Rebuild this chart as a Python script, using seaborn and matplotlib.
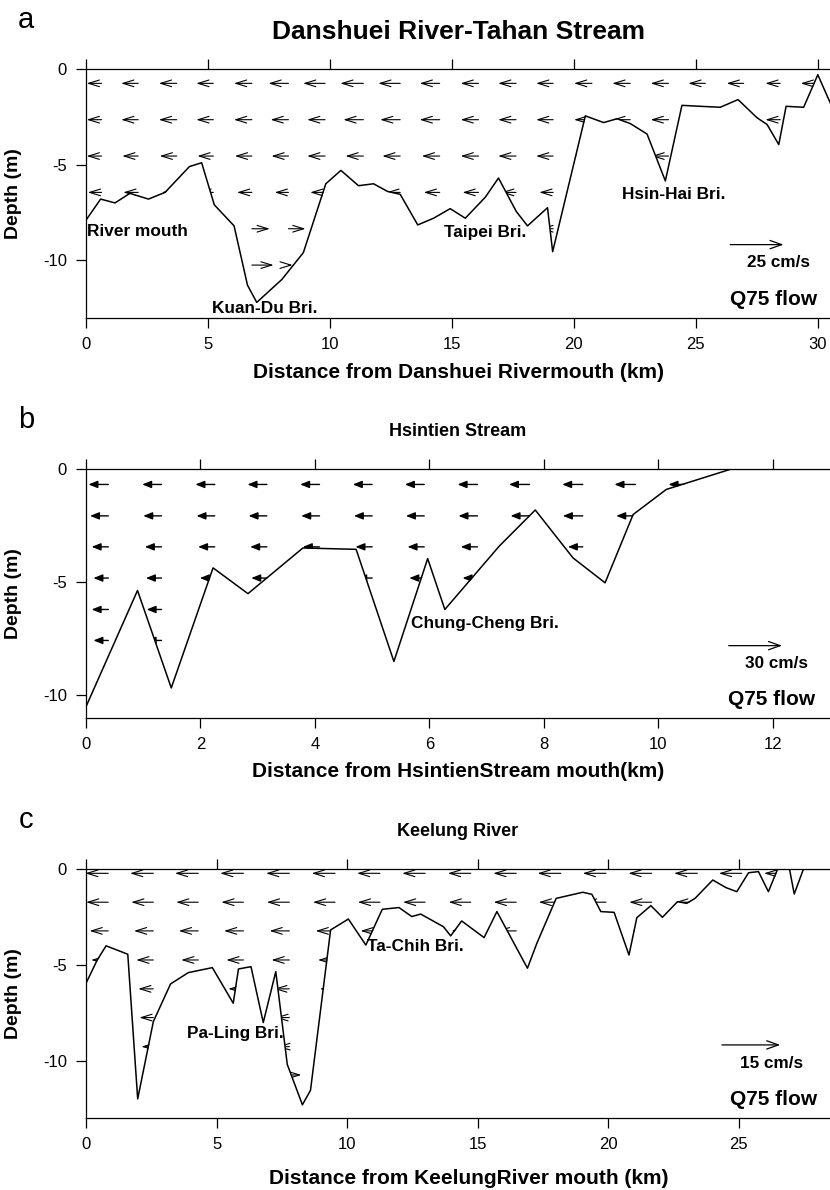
import numpy as np
import matplotlib
matplotlib.use("Agg")
import matplotlib.pyplot as plt
import seaborn as sns

nan = np.nan

# ======================= DATA =======================
# ---- Panel a : Danshuei River-Tahan Stream ----
title_a = "Danshuei River-Tahan Stream"
xlabel_a = "Distance from Danshuei Rivermouth (km)"
bed_a_km = [0.0, 0.6, 1.19, 1.8, 2.56, 3.24, 4.24, 4.74, 5.26, 6.07, 6.62, 7.0,
            8.03, 8.91, 9.83, 10.45, 11.17, 11.79, 12.36, 12.88, 13.6, 14.25,
            14.93, 15.55, 16.37, 16.91, 17.64, 18.1, 18.92, 19.13, 20.47, 21.22,
            21.77, 22.31, 23.0, 23.75, 24.43, 25.18, 26.0, 26.73, 27.51, 27.92,
            28.4, 28.7, 29.42, 30.0, 30.52]
bed_a_depth = [-7.9, -6.8, -7.0, -6.5, -6.8, -6.45, -5.1, -4.9, -7.1, -8.2, -11.3, -12.2,
               -11.0, -9.6, -6.0, -5.3, -6.1, -6.0, -6.4, -6.55, -8.15, -7.8,
               -7.3, -7.8, -6.7, -5.7, -7.45, -8.2, -7.25, -9.55, -2.45, -2.8,
               -2.6, -2.85, -3.4, -5.85, -1.9, -1.95, -2.0, -1.6, -2.55, -2.9,
               -3.95, -1.95, -2.0, -0.3, -1.8]
arrow_a_km = [0.64, 2.14, 3.72, 5.22, 6.8, 8.3, 9.8, 11.37, 12.88, 14.5,
              16.09, 17.63, 19.15, 20.74, 22.31, 23.88, 25.39, 26.96, 28.46, 29.83]
arrow_a_depth = [-0.75, -2.65, -4.55, -6.45, -8.35, -10.25]
u_a = [
    [-7.0, -8.0, -8.4, -8.0, -8.4, -9.4, -10.3, -10.8, -10.3, -9.4,
     -8.4, -8.4, -8.0, -8.4, -8.4, -8.4, -8.0, -8.0, -7.0, -6.1],
    [-7.0, -8.0, -8.4, -8.0, -8.4, -8.4, -8.4, -9.4, -9.4, -9.4,
     -8.4, -8.4, -8.0, -8.4, -8.4, -8.4, -8.0, -8.0, -7.0, -6.1],
    [-7.0, -7.5, -8.0, -7.5, -8.0, -8.0, -8.4, -8.4, -8.4, -8.4,
     -8.4, -8.4, -8.0, -8.0, -8.0, -8.0, -8.0, -7.5, -7.0, -6.1],
    [-6.5, -7.0, -7.0, -7.0, -7.0, -6.5, -7.0, -7.0, -6.5, -7.5,
     -7.5, -7.0, -6.5, -7.0, -7.0, -7.0, -7.0, -7.0, -6.5, -6.0],
    [nan, nan, nan, nan, 8.4, 8.0, -6.0, -6.0, nan, nan,
     nan, nan, -6.0, nan, nan, nan, nan, nan, nan, nan],
    [nan, nan, nan, nan, 10.2, 2.0, nan, nan, nan, nan,
     nan, nan, nan, nan, nan, nan, nan, nan, nan, nan],
]
key_a = 25
bridges_a = ["River mouth", "Kuan-Du Bri.", "Taipei Bri.", "Hsin-Hai Bri."]

# ---- Panel b : Hsintien Stream ----
title_b = "Hsintien Stream"
xlabel_b = "Distance from HsintienStream mouth(km)"
bed_b_km = [0.0, 0.9, 1.49, 2.22, 2.83, 3.79, 4.72, 5.38, 5.97, 6.27, 7.22, 7.85,
            8.51, 9.07, 9.56, 10.14, 11.26, 13.0]
bed_b_depth = [-10.5, -5.36, -9.67, -4.36, -5.5, -3.48, -3.54, -8.5, -3.95, -6.2, -3.4, -1.8,
               -3.92, -5.02, -2.0, -0.89, 0.0, 0.0]
arrow_b_km = [0.39, 1.32, 2.25, 3.16, 4.08, 5.0, 5.91, 6.84, 7.75, 8.68, 9.6, 10.52]
arrow_b_depth = [-0.67, -2.06, -3.43, -4.81, -6.2, -7.57]
u_b = [
    [-11.2, -10.9, -10.9, -10.9, -10.9, -10.9, -10.9, -11.2, -11.6, -11.6, -11.8, -11.0],
    [-10.3, -10.3, -10.3, -10.3, -10.3, -10.3, -10.3, -10.7, -10.7, -11.2, -10.8, nan],
    [-9.4, -9.4, -9.4, -9.4, -9.4, -9.4, -9.4, -9.4, nan, -8.4, -8.0, nan],
    [-8.4, -8.8, -8.4, -8.8, nan, -8.4, -8.4, -8.4, nan, nan, nan, nan],
    [-9.4, -8.4, nan, nan, nan, nan, nan, nan, nan, nan, nan, nan],
    [-8.4, -8.4, nan, nan, nan, nan, nan, nan, nan, nan, nan, nan],
]
key_b = 30
bridges_b = ["Chung-Cheng Bri."]

# ---- Panel c : Keelung River ----
title_c = "Keelung River"
xlabel_c = "Distance from KeelungRiver mouth (km)"
bed_c_km = [0.0, 0.43, 0.77, 1.6, 1.98, 2.58, 3.24, 3.92, 4.84, 5.64, 5.84, 6.32,
            6.79, 7.27, 7.71, 8.29, 8.6, 9.37, 10.05, 10.72, 11.35, 11.99, 12.48,
            12.82, 13.69, 13.97, 14.39, 15.25, 15.74, 16.91, 17.27, 18.01, 19.03,
            19.38, 19.72, 20.23, 20.8, 21.1, 21.64, 22.08, 22.66, 23.01, 23.33,
            24.01, 24.52, 24.93, 25.38, 25.76, 26.14, 26.49, 26.95, 27.13, 27.48, 28.5]
bed_c_depth = [-5.96, -4.74, -4.0, -4.44, -12.0, -7.96, -5.99, -5.4, -5.14, -7.0, -5.21, -5.09,
               -8.01, -5.35, -10.2, -12.31, -11.55, -3.17, -2.6, -3.96, -2.09, -2.0, -2.47,
               -2.34, -3.0, -3.48, -2.7, -3.57, -2.21, -5.17, -3.87, -1.52, -1.2,
               -1.31, -2.21, -2.25, -4.48, -2.53, -1.9, -2.51, -1.69, -1.78, -1.52,
               -0.56, -0.96, -1.17, -0.18, -0.12, -1.17, 0.0, 0.0, -1.29, 0.0, 0.0]
arrow_c_km = [0.85, 2.58, 4.3, 6.03, 7.79, 9.54, 11.26, 12.99, 14.74, 16.48,
              18.19, 19.92, 21.67, 23.42, 25.12, 26.85]
arrow_c_depth = [-0.21, -1.72, -3.22, -4.74, -6.25, -7.75, -9.27, -10.75]
u_c = [
    [-5.9, -6.0, -6.0, -6.0, -6.0, -6.0, -5.9, -5.9, -5.9, -5.9, -6.0, -6.0, -6.0, -6.0, -5.9, -5.9],
    [-5.7, -5.7, -5.7, -5.7, -5.8, -5.7, -5.7, -5.7, -5.7, -5.8, -5.7, -5.7, -5.8, -5.7, -5.7, -5.7],
    [-4.8, -5.0, -5.0, -5.0, -5.1, -5.0, -5.0, -5.0, -5.0, -5.0, -5.0, -5.0, -5.0, -5.0, -5.0, -5.0],
    [-4.4, -4.4, -4.4, -4.4, -4.6, -4.4, -4.4, -4.4, -4.4, -4.4, -4.4, -4.4, -4.4, -4.4, -4.4, -4.4],
    [nan, -3.9, nan, -3.9, -3.9, -3.9, nan, nan, nan, nan, nan, nan, nan, nan, nan, nan],
    [nan, -3.6, nan, nan, -3.6, -3.6, nan, nan, nan, nan, nan, nan, nan, nan, nan, nan],
    [nan, -3.1, nan, nan, -3.1, nan, nan, nan, nan, nan, nan, nan, nan, nan, nan, nan],
    [nan, nan, nan, nan, 3.1, nan, nan, nan, nan, nan, nan, nan, nan, nan, nan, nan],
]
key_c = 15
bridges_c = ["Ta-Chih Bri.", "Pa-Ling Bri."]

flow_label = "Q75 flow"
ylabel = "Depth (m)"
panel_letters = ["a", "b", "c"]

# ======================= STYLE / LAYOUT =======================
sns.set_theme(style="ticks")
plt.rcParams["font.family"] = ["Liberation Sans", "DejaVu Sans"]
plt.rcParams["axes.unicode_minus"] = False
plt.rcParams["axes.linewidth"] = 0.9
for k in ["text.color", "axes.labelcolor", "xtick.color", "ytick.color", "axes.edgecolor"]:
    plt.rcParams[k] = "black"

W, H = 830, 1190
fig = plt.figure(figsize=(W / 100, H / 100), dpi=100)


def fxy(x, y):
    return x / W, 1 - y / H


def make_axes(top_px):
    left, width, height = 86, 744, 248.7
    return fig.add_axes([left / W, 1 - (top_px + height) / H, width / W, height / H])


def draw_panel(ax, bed_km, bed_depth, arrow_km, arrow_depth, u, px_per_cms,
               style, lw, xlim, ylim, xticks, yticks):
    for d, row in zip(arrow_depth, u):
        for x, val in zip(arrow_km, row):
            if np.isnan(val):
                continue
            ax.annotate("", xy=(x, d), xycoords="data",
                        xytext=(val * px_per_cms * 0.72, 0), textcoords="offset points",
                        arrowprops=dict(arrowstyle=style, color="black", lw=lw,
                                        shrinkA=0, shrinkB=0),
                        zorder=1.5)
    ax.fill_between(bed_km, bed_depth, ylim[0], color="white", lw=0, zorder=2)
    sns.lineplot(x=bed_km, y=bed_depth, ax=ax, color="black", lw=1.1,
                 sort=False, estimator=None, zorder=3)
    ax.set_xlim(*xlim)
    ax.set_ylim(*ylim)
    ax.set_xticks(xticks)
    ax.set_yticks(yticks)
    ax.set_xlabel("")
    ax.set_ylabel("")
    ax.spines["right"].set_visible(False)
    ax.tick_params(axis="x", top=True, bottom=True, direction="out", length=7.2,
                   width=0.9, labelsize=12, pad=6.5, colors="black")
    ax.tick_params(axis="y", left=True, right=False, direction="out", length=7.2,
                   width=0.9, labelsize=12, pad=6.5, colors="black")
    for s in ax.spines.values():
        s.set_color("black")
        s.set_zorder(2.5)


def add_key(ax, x, y, speed, px_per_cms, label_x, label_y):
    ax.annotate("", xy=(x, y), xycoords="data",
                xytext=(speed * px_per_cms * 0.72, 0), textcoords="offset points",
                arrowprops=dict(arrowstyle="<-,head_length=0.7,head_width=0.25",
                                color="black", lw=0.9, shrinkA=0, shrinkB=0),
                zorder=4)
    ax.text(label_x, label_y, f"{speed} cm/s", ha="center", va="center",
            fontsize=12.3, fontweight="bold", zorder=4)


open_style = "<-,head_length=0.65,head_width=0.2"
fill_style = "<|-,head_length=0.45,head_width=0.18"
txt = dict(fontsize=12.4, fontweight="bold", zorder=4, va="center", ha="left")
flow_kw = dict(ha="right", va="center", fontsize=15, fontweight="bold", zorder=4)

# ---- Panel a ----
ax_a = make_axes(69)
pa = 53.3 / key_a
draw_panel(ax_a, bed_a_km, bed_a_depth, arrow_a_km, arrow_a_depth, u_a, pa,
           open_style, 0.8, (0, 30.5), (-13, 0), [0, 5, 10, 15, 20, 25, 30], [0, -5, -10])
ax_a.text(0.04, -8.5, bridges_a[0], **txt)
ax_a.text(5.17, -12.53, bridges_a[1], **txt)
ax_a.text(14.66, -8.57, bridges_a[2], **txt)
ax_a.text(21.97, -6.57, bridges_a[3], **txt)
add_key(ax_a, 26.41, -9.18, key_a, pa, 28.38, -10.14)
ax_a.text(29.97, -12.05, flow_label, **flow_kw)

# ---- Panel b ----
ax_b = make_axes(469.3)
pb = 53.3 / key_b
draw_panel(ax_b, bed_b_km, bed_b_depth, arrow_b_km, arrow_b_depth, u_b, pb,
           fill_style, 1.0, (0, 13), (-11, 0), [0, 2, 4, 6, 8, 10, 12], [0, -5, -10])
ax_b.text(5.68, -6.83, bridges_b[0], **txt)
add_key(ax_b, 11.23, -7.8, key_b, pb, 12.07, -8.61)
ax_b.text(12.74, -10.16, flow_label, **flow_kw)

# ---- Panel c ----
ax_c = make_axes(869.3)
pc = 58.3 / key_c
draw_panel(ax_c, bed_c_km, bed_c_depth, arrow_c_km, arrow_c_depth, u_c, pc,
           open_style, 0.8, (0, 28.5), (-13, 0), [0, 5, 10, 15, 20, 25], [0, -5, -10])
ax_c.text(10.78, -4.01, bridges_c[0], **txt)
ax_c.text(3.88, -8.57, bridges_c[1], **txt)
add_key(ax_c, 24.36, -9.18, key_c, pc, 26.28, -10.17)
ax_c.text(28.0, -12.02, flow_label, **flow_kw)

# ---- titles, letters, axis labels ----
fig.text(*fxy(458, 32), title_a, ha="center", va="center", fontsize=19, fontweight="bold")
fig.text(*fxy(458, 432), title_b, ha="center", va="center", fontsize=13, fontweight="bold")
fig.text(*fxy(458, 832), title_c, ha="center", va="center", fontsize=13, fontweight="bold")

for letter, ypx in zip(panel_letters, [20, 420, 820]):
    fig.text(*fxy(26, ypx), letter, ha="center", va="center", fontsize=21)

for xl, (xc, yc) in zip([xlabel_a, xlabel_b, xlabel_c], [(458, 372), (458, 771.7), (469, 1178)]):
    fig.text(*fxy(xc, yc), xl, ha="center", va="center", fontsize=15, fontweight="bold")

for yc in [193.4, 593.7, 993.7]:
    fig.text(*fxy(14, yc), ylabel, ha="center", va="center", rotation=90,
             fontsize=14, fontweight="bold")

fig.savefig("out.png", dpi=100)
